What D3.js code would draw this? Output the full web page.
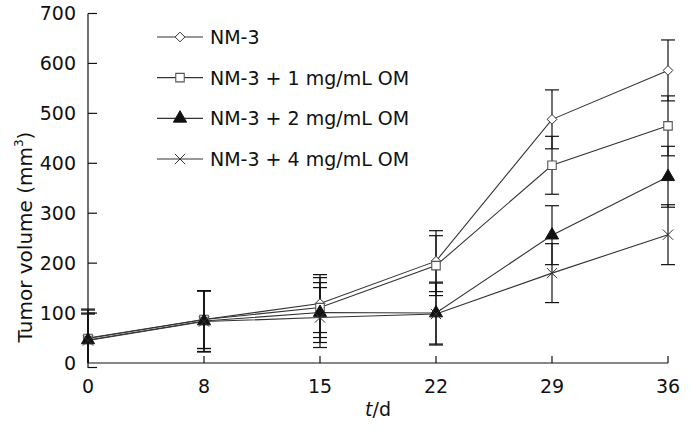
<!DOCTYPE html>
<html><head><meta charset="utf-8">
<script src="https://cdn.jsdelivr.net/npm/d3@7"></script>
<style>
html,body{margin:0;padding:0;background:#fff;}
svg{display:block;}
text{font-family:"DejaVu Sans",Verdana,sans-serif;fill:#111;}
</style></head>
<body>
<svg id="chart" width="697" height="430"></svg>
<script>
// ---- data ----
const days = ["0", "8", "15", "22", "29", "36"];
const seriesNames = ["NM-3", "NM-3 + 1 mg/mL OM", "NM-3 + 2 mg/mL OM", "NM-3 + 4 mg/mL OM"];
const nm3      = [50, 87, 119, 204, 488, 586];
const nm3Err   = [58, 58, 58, 61, 59, 61];
const om1      = [49, 87, 111, 195, 396, 475];
const om1Err   = [57, 58, 60, 60, 58, 60];
const om2      = [46, 84, 101, 100, 256, 373];
const om2Err   = [54, 61, 60, 62, 59, 61];
const om4      = [45, 83, 91, 98, 180, 257];
const om4Err   = [53, 61, 60, 62, 59, 60];
const yTicks   = [0, 100, 200, 300, 400, 500, 600, 700];

const series = [
  {name: seriesNames[0], vals: nm3, errs: nm3Err, sym: "diamond"},
  {name: seriesNames[1], vals: om1, errs: om1Err, sym: "square"},
  {name: seriesNames[2], vals: om2, errs: om2Err, sym: "triangle"},
  {name: seriesNames[3], vals: om4, errs: om4Err, sym: "cross"}
];

const svg = d3.select("#chart");
const x = d3.scalePoint().domain(days).range([88, 668]);
const y = d3.scaleLinear().domain([0, 700]).range([363, 13.5]);

// clip for error bars (nothing below the x axis)
svg.append("defs").append("clipPath").attr("id", "plotclip")
  .append("rect").attr("x", 0).attr("y", 0).attr("width", 697).attr("height", y(0));

// ---- axes ----
const axisG = svg.append("g").attr("stroke", "#111").attr("stroke-width", 1.2);
// y axis line
axisG.append("line").attr("x1", x(days[0])).attr("x2", x(days[0]))
  .attr("y1", y(700)).attr("y2", y(0) + 5);
// x axis line
axisG.append("line").attr("x1", x(days[0])).attr("x2", x(days[days.length-1]))
  .attr("y1", y(0)).attr("y2", y(0));
// y ticks (inward)
yTicks.forEach(t => {
  axisG.append("line").attr("x1", x(days[0])).attr("x2", x(days[0]) + 9)
    .attr("y1", t === 0 ? y(0) + 4.5 : y(t)).attr("y2", t === 0 ? y(0) + 4.5 : y(t));
  svg.append("text").attr("x", 76).attr("y", y(t)).attr("dy", "0.36em")
    .attr("text-anchor", "end").attr("font-size", 19).text(t);
});
// x ticks (inward)
days.forEach(d => {
  axisG.append("line").attr("x1", x(d)).attr("x2", x(d))
    .attr("y1", y(0)).attr("y2", y(0) - 7);
  svg.append("text").attr("x", x(d)).attr("y", 393)
    .attr("text-anchor", "middle").attr("font-size", 19).text(d);
});

// axis titles
const xt = svg.append("text").attr("x", 378).attr("y", 416)
  .attr("text-anchor", "middle").attr("font-size", 19);
xt.append("tspan").attr("font-style", "italic").text("t");
xt.append("tspan").text("/d");

const yt = svg.append("text")
  .attr("transform", "translate(32," + 237 + ") rotate(-90)")
  .attr("text-anchor", "middle").attr("font-size", 20);
yt.append("tspan").text("Tumor volume (mm");
yt.append("tspan").attr("font-size", 12).attr("dy", -9).text("3");
yt.append("tspan").attr("dy", 9).text(")");

// ---- error bars ----
const errG = svg.append("g").attr("clip-path", "url(#plotclip)")
  .attr("stroke", "#111").attr("stroke-width", 1.2);
series.forEach(s => {
  days.forEach((d, i) => {
    const hi = s.vals[i] + s.errs[i], lo = s.vals[i] - s.errs[i];
    errG.append("line").attr("x1", x(d)).attr("x2", x(d)).attr("y1", y(hi)).attr("y2", y(lo));
    [hi, lo].forEach(v => errG.append("line")
      .attr("x1", x(d) - 7).attr("x2", x(d) + 7).attr("y1", y(v)).attr("y2", y(v)));
  });
});

// ---- lines ----
const line = d3.line().x((v, i) => x(days[i])).y(v => y(v));
series.forEach(s => {
  svg.append("path").attr("d", line(s.vals)).attr("fill", "none")
    .attr("stroke", "#333").attr("stroke-width", 1.1);
});

// ---- markers ----
function drawMarker(g, sym, cx, cy) {
  if (sym === "diamond") {
    g.append("path").attr("d", d3.symbol(d3.symbolDiamond2, 60)())
      .attr("transform", `translate(${cx},${cy})`)
      .attr("fill", "#fff").attr("stroke", "#333").attr("stroke-width", 1);
  } else if (sym === "square") {
    g.append("path").attr("d", d3.symbol(d3.symbolSquare, 72)())
      .attr("transform", `translate(${cx},${cy})`)
      .attr("fill", "#fff").attr("stroke", "#555").attr("stroke-width", 1.1);
  } else if (sym === "triangle") {
    g.append("path").attr("d", d3.symbol(d3.symbolTriangle, 75)())
      .attr("transform", `translate(${cx},${cy})`)
      .attr("fill", "#111").attr("stroke", "#111").attr("stroke-width", 1);
  } else {
    g.append("path").attr("d", d3.symbol(d3.symbolTimes, 70)())
      .attr("transform", `translate(${cx},${cy})`)
      .attr("fill", "none").attr("stroke", "#333").attr("stroke-width", 1);
  }
}
const mG = svg.append("g");
series.forEach(s => {
  s.vals.forEach((v, i) => drawMarker(mG, s.sym, x(days[i]), y(v)));
});

// ---- legend ----
const legendY = d3.scalePoint().domain(seriesNames).range([37, 159]);
const lg = svg.append("g");
series.forEach(s => {
  const ly = legendY(s.name);
  lg.append("line").attr("x1", 157).attr("x2", 203).attr("y1", ly).attr("y2", ly)
    .attr("stroke", "#333").attr("stroke-width", 1.1);
  drawMarker(lg, s.sym, 180, ly);
  lg.append("text").attr("x", 210).attr("y", ly).attr("dy", "0.36em")
    .attr("font-size", 19).text(s.name);
});
</script>
</body></html>
